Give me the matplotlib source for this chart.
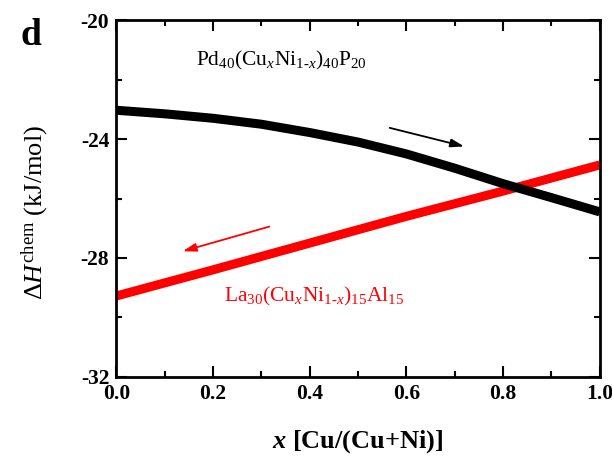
import matplotlib
matplotlib.use("Agg")
import matplotlib.pyplot as plt
from matplotlib.ticker import MultipleLocator, FormatStrFormatter, FuncFormatter

plt.rcParams['font.family'] = ['Liberation Serif', 'DejaVu Serif']
plt.rcParams['mathtext.fontset'] = 'custom'
plt.rcParams['mathtext.rm'] = 'Liberation Serif'
plt.rcParams['mathtext.it'] = 'Liberation Serif:italic'
plt.rcParams['mathtext.bf'] = 'Liberation Serif:bold'
plt.rcParams['mathtext.bfit'] = 'Liberation Serif:bold:italic'

# Pd40(CuxNi1-x)40P20
x_pd = [0.0, 0.1, 0.2, 0.3, 0.4, 0.5, 0.6, 0.7, 0.8, 0.9, 1.0]
h_pd = [-23.03, -23.15, -23.3, -23.5, -23.78, -24.1, -24.5, -24.98, -25.5, -25.97, -26.45]

# La30(CuxNi1-x)15Al15
x_la = [0.0, 0.2, 0.4, 0.6, 0.8, 1.0]
h_la = [-29.28, -28.4, -27.5, -26.6, -25.75, -24.87]

fig = plt.figure(figsize=(6.12, 4.59), dpi=100)
ax = fig.add_axes([0.19, 0.179, 0.79, 0.777])

ax.plot(x_la, h_la, color='#ff0000', lw=6.5, solid_capstyle='butt')
ax.plot(x_pd, h_pd, color='black', lw=6.5, solid_capstyle='butt')

# direction arrows
ax.annotate('', xy=(0.725, -24.27), xytext=(0.56, -23.6),
            arrowprops=dict(arrowstyle='-|>,head_length=0.8,head_width=0.25',
                            color='black', lw=1.3, mutation_scale=10))
ax.annotate('', xy=(0.132, -27.8), xytext=(0.322, -26.92),
            arrowprops=dict(arrowstyle='-|>,head_length=0.8,head_width=0.25',
                            color='#ff0000', lw=1.3, mutation_scale=10))

ax.text(0.165, -21.35, r'Pd$_{40}$(Cu$_{x}$Ni$_{1\text{-}x}$)$_{40}$P$_{20}$',
        fontsize=15.5, va='center', ha='left', color='black')
ax.text(0.223, -29.3, r'La$_{30}$(Cu$_{x}$Ni$_{1\text{-}x}$)$_{15}$Al$_{15}$',
        fontsize=15.5, va='center', ha='left', color='#ff0000')

ax.set_xlim(0, 1.0)
ax.set_ylim(-32, -20)
ax.xaxis.set_major_locator(MultipleLocator(0.2))
ax.xaxis.set_minor_locator(MultipleLocator(0.1))
ax.yaxis.set_major_locator(MultipleLocator(4))
ax.yaxis.set_minor_locator(MultipleLocator(2))
ax.xaxis.set_major_formatter(FormatStrFormatter('%.1f'))
ax.yaxis.set_major_formatter(FuncFormatter(lambda v, p: '%d' % v))
ax.tick_params(which='both', direction='in', top=True, right=True, width=1.5)
ax.tick_params(which='major', length=8, labelsize=15.5, pad=5)
ax.tick_params(which='minor', length=4)
for lab in ax.get_xticklabels() + ax.get_yticklabels():
    lab.set_fontweight('bold')
for s in ax.spines.values():
    s.set_linewidth(2)

ax.set_xlabel(r'$\mathbfit{x}$ [Cu/(Cu+Ni)]', fontsize=19, fontweight='bold')
ax.set_ylabel(r'$\Delta\mathit{H}^{\mathrm{chem}}$ (kJ/mol)', fontsize=19)
ax.xaxis.set_label_coords(0.5, -0.143)
ax.yaxis.set_label_coords(-0.136, 0.46)

fig.text(0.051, 0.922, 'd', fontsize=27, fontweight='bold', ha='center', va='center')

fig.savefig('out.png', dpi=100)
